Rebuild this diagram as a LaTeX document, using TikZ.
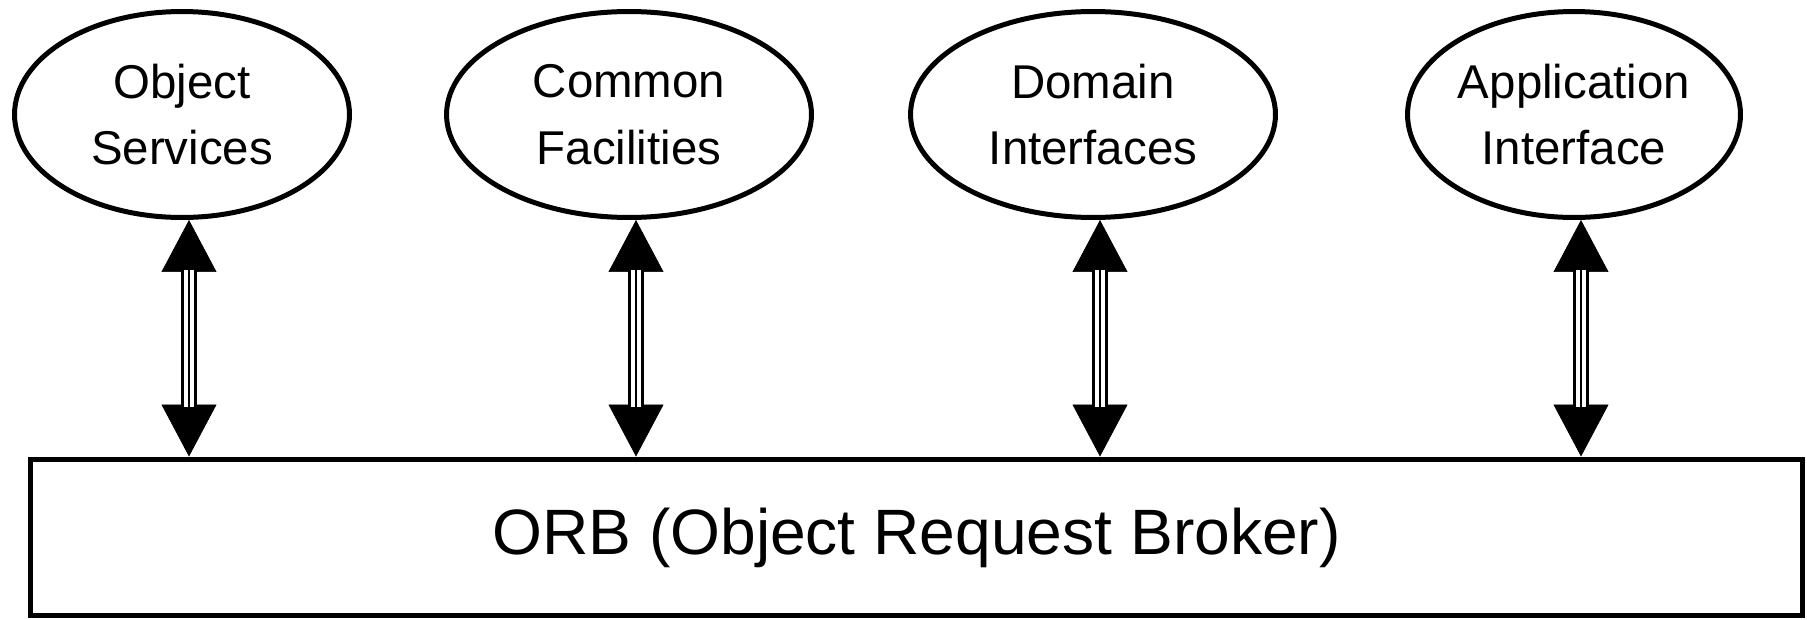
\documentclass[tikz,border=0pt]{standalone}
\usepackage{fontspec}
\setmainfont{Liberation Sans}
\usetikzlibrary{shapes.geometric, arrows.meta}

\begin{document}
\begin{tikzpicture}[x = 0.02cm, y = -0.02cm]

	% Definitions
	
	\def\S{0.14cm}	% Links sit a little right of the ellipse centres
	
	\tikzset{
		part/.style = {ellipse, draw, line width = 0.1cm, minimum height = 4.12cm, inner sep = 0, align = center, font = \fontsize{27}{38}\selectfont},
		link/.style = {{Triangle[length = 1.04cm, width = 1.1cm]}-{Triangle[length = 1.04cm, width = 1.1cm]}, line width = 0.4pt,
			postaction = {draw, -, shorten <= 1cm, shorten >= 1cm, line width = 1.6pt, double, double distance = 6pt},
			postaction = {draw, -, shorten <= 1cm, shorten >= 1cm, line width = 1.6pt}}
	}
	
	\useasboundingbox (0, 0) rectangle (1807, 619);
	
	% Parts on top
	
	\node [part, minimum width = 6.7cm] (os) at (182, 114.5) {Object\\Services};
	\node [part, minimum width = 7.3cm] (cf) at (629, 114.5) {Common\\Facilities};
	\node [part, minimum width = 7.3cm] (di) at (1093, 114.5) {Domain\\Interfaces};
	\node [part, minimum width = 6.66cm] (ai) at (1574, 114.5) {Application\\Interface};
	
	% The broker
	
	\node [draw, line width = 0.1cm, minimum width = 35.46cm, minimum height = 3.14cm, inner sep = 0, font = \fontsize{36.5}{44}\selectfont] (orb) at (916.5, 537.5) {ORB (Object Request Broker)};
	
	% Links
	
	\draw [link] ([xshift = \S] os.south) -- ([xshift = \S] os.south |- orb.north);
	\draw [link] ([xshift = \S] cf.south) -- ([xshift = \S] cf.south |- orb.north);
	\draw [link] ([xshift = \S] di.south) -- ([xshift = \S] di.south |- orb.north);
	\draw [link] ([xshift = \S] ai.south) -- ([xshift = \S] ai.south |- orb.north);

\end{tikzpicture}
\end{document}
